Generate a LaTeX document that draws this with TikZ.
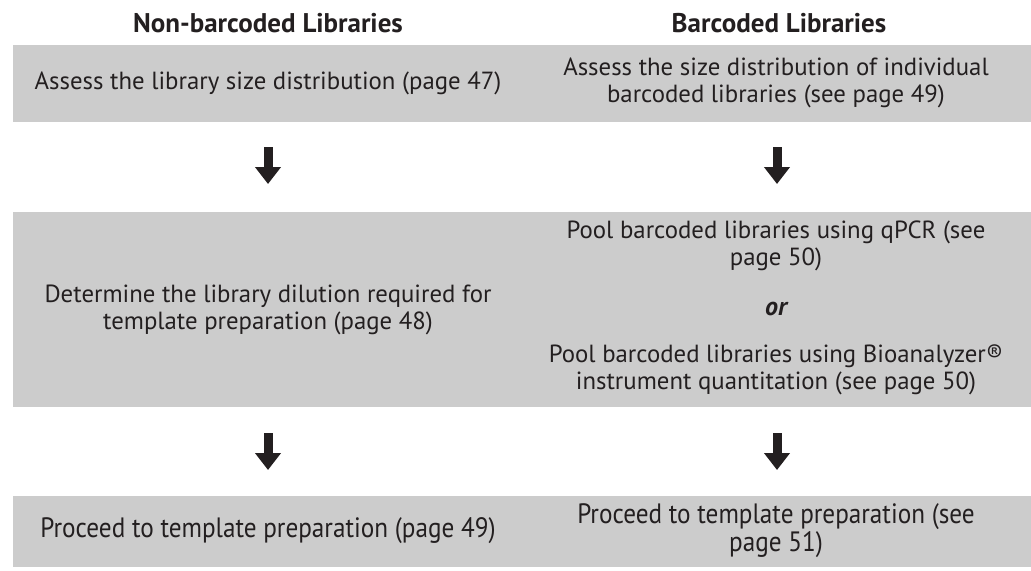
\documentclass[tikz,border=0pt]{standalone}
\usepackage{fontspec}
\setmainfont{PT Sans}
\usetikzlibrary{arrows.meta}
\definecolor{bandgray}{HTML}{CCCCCC}
\definecolor{inkgray}{HTML}{231F20}
\newcommand{\squeezed}[1]{\scalebox{0.9}[1]{#1}}
\begin{document}
\begin{tikzpicture}[x=0.5pt, y=-0.5pt, font=\fontsize{12.4}{13.6}\selectfont, color=inkgray]
	\tikzstyle{bandStyle}=[fill=bandgray, draw=none, inner sep=0pt, outer sep=0pt, anchor=north west, minimum width=509pt]
	\tikzstyle{headStyle}=[inner sep=0pt, font=\fontsize{13.5}{14}\selectfont\bfseries]
	\tikzstyle{stepStyle}=[align=center, inner sep=0pt]
	\tikzstyle{lastStyle}=[align=center, inner sep=0pt, font=\fontsize{14}{14}\selectfont]
	\tikzstyle{arrowStyle}=[line width=4.5pt, -{Triangle[width=12.5pt, length=8.5pt]}]
	\useasboundingbox (0,0) rectangle (1031,570);
	\node[bandStyle, minimum height=38.5pt] (b1) at (13,45) {};
	\node[bandStyle, minimum height=97.5pt] (b2) at (13,212) {};
	\node[bandStyle, minimum height=35.5pt] (b3) at (13,496) {};
	\node[headStyle] (hl) at (268,23) {Non-barcoded Libraries};
	\node[headStyle] (hr) at (779,23) {Barcoded Libraries};
	\node[stepStyle] (l1) at (268,83) {Assess the library size distribution (page 47)};
	\node[stepStyle] (r1) at (776,83) {Assess the size distribution of individual\\barcoded libraries (see page 49)};
	\node[stepStyle] (l2) at (268,310) {Determine the library dilution required for\\template preparation (page 48)};
	\node[stepStyle] (r2a) at (776,246) {Pool barcoded libraries using qPCR (see\\page 50)};
	\node[stepStyle, font=\fontsize{13}{14}\selectfont\bfseries\itshape] (r2or) at (776,309) {or};
	\node[stepStyle] (r2b) at (776,370) {Pool barcoded libraries using Bioanalyzer®\\instrument quantitation (see page 50)};
	\node[lastStyle] (l3) at (268,531) {\squeezed{Proceed to template preparation (page 49)}};
	\node[lastStyle] (r3) at (776,531) {\squeezed{Proceed to template preparation (see}\\\squeezed{page 51)}};
	\coordinate (a1l) at (268,147);
	\coordinate (a1le) at (268,184);
	\coordinate (a1r) at (777,147);
	\coordinate (a1re) at (777,184);
	\coordinate (a2l) at (268,433);
	\coordinate (a2le) at (268,470);
	\coordinate (a2r) at (777,433);
	\coordinate (a2re) at (777,470);
	\draw[arrowStyle] (a1l) -- (a1le);
	\draw[arrowStyle] (a1r) -- (a1re);
	\draw[arrowStyle] (a2l) -- (a2le);
	\draw[arrowStyle] (a2r) -- (a2re);
\end{tikzpicture}
\end{document}
